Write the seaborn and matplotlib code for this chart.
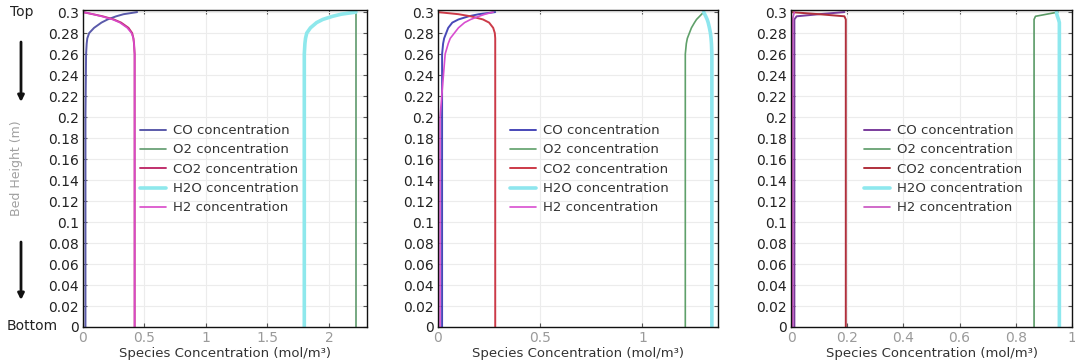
import numpy as np
import pandas as pd
import matplotlib
matplotlib.use("Agg")
import matplotlib.pyplot as plt
import seaborn as sns

# Bed height sample points (m), denser near the top where profiles bend
heights = [0.0, 0.20, 0.26, 0.27, 0.275, 0.28, 0.285, 0.29, 0.293, 0.296, 0.298, 0.30]

species = ["CO", "O2", "CO2", "H2O", "H2"]

# Case 1 concentrations (mol/m^3) at each height
case1_co = [0.02, 0.02, 0.025, 0.03, 0.035, 0.05, 0.09, 0.15, 0.20, 0.27, 0.33, 0.44]
case1_o2 = [2.22, 2.22, 2.22, 2.22, 2.22, 2.22, 2.22, 2.22, 2.22, 2.22, 2.22, 2.22]
case1_co2 = [0.42, 0.42, 0.42, 0.415, 0.41, 0.40, 0.37, 0.31, 0.25, 0.16, 0.08, 0.0]
case1_h2o = [1.80, 1.80, 1.80, 1.805, 1.81, 1.82, 1.85, 1.90, 1.95, 2.03, 2.10, 2.22]
case1_h2 = [0.42, 0.42, 0.42, 0.415, 0.41, 0.395, 0.36, 0.30, 0.24, 0.15, 0.08, 0.0]

# Case 2
case2_co = [0.02, 0.02, 0.02, 0.025, 0.03, 0.04, 0.05, 0.07, 0.10, 0.15, 0.20, 0.28]
case2_o2 = [1.21, 1.21, 1.21, 1.215, 1.22, 1.23, 1.24, 1.255, 1.265, 1.28, 1.29, 1.30]
case2_co2 = [0.28, 0.28, 0.28, 0.28, 0.28, 0.278, 0.27, 0.25, 0.22, 0.16, 0.10, 0.0]
case2_h2o = [1.34, 1.34, 1.34, 1.338, 1.336, 1.333, 1.328, 1.322, 1.317, 1.31, 1.305, 1.30]
case2_h2 = [0.01, 0.01, 0.035, 0.05, 0.06, 0.08, 0.10, 0.13, 0.16, 0.20, 0.23, 0.27]

# Case 3
case3_co = [0.012, 0.012, 0.012, 0.012, 0.012, 0.012, 0.012, 0.012, 0.012, 0.02, 0.10, 0.19]
case3_o2 = [0.865, 0.865, 0.865, 0.865, 0.865, 0.865, 0.865, 0.865, 0.865, 0.87, 0.91, 0.95]
case3_co2 = [0.195, 0.195, 0.195, 0.195, 0.195, 0.195, 0.195, 0.195, 0.195, 0.19, 0.10, 0.0]
case3_h2o = [0.955, 0.955, 0.955, 0.955, 0.955, 0.955, 0.955, 0.955, 0.952, 0.948, 0.946, 0.945]
case3_h2 = [0.006, 0.006, 0.006, 0.006, 0.006, 0.006, 0.006, 0.006, 0.006, 0.008, 0.01, 0.012]

cases = [
    [case1_co, case1_o2, case1_co2, case1_h2o, case1_h2],
    [case2_co, case2_o2, case2_co2, case2_h2o, case2_h2],
    [case3_co, case3_o2, case3_co2, case3_h2o, case3_h2],
]

x_limits = [(0, 2.31), (0, 1.37), (0, 0.985)]
x_ticks = [[0, 0.5, 1, 1.5, 2], [0, 0.5, 1], [0, 0.2, 0.4, 0.6, 0.8, 1]]
x_ticklabels = [["0", "0.5", "1", "1.5", "2"], ["0", "0.5", "1"],
                ["0", "0.2", "0.4", "0.6", "0.8", "1"]]
y_ticks = [0, 0.02, 0.04, 0.06, 0.08, 0.1, 0.12, 0.14, 0.16, 0.18,
           0.2, 0.22, 0.24, 0.26, 0.28, 0.3]
y_ticklabels = ["0", "0.02", "0.04", "0.06", "0.08", "0.1", "0.12", "0.14", "0.16",
                "0.18", "0.2", "0.22", "0.24", "0.26", "0.28", "0.3"]

colors = {
    "CO": ["#5a5aaa", "#4848b8", "#7a3c9c"],
    "O2": ["#5f9a6c", "#5fa06a", "#5a9a66"],
    "CO2": ["#c0306c", "#cc3a48", "#b0303c"],
    "H2O": ["#8ee8ec", "#8ee6ee", "#8ee8ee"],
    "H2": ["#d848c8", "#d84ed0", "#c850c0"],
}
widths = {"CO": 1.4, "O2": 1.2, "CO2": 1.4, "H2O": 2.6, "H2": 1.2}

sns.set_theme(style="white")
plt.rcParams["font.family"] = ["DejaVu Sans"]

fig = plt.figure(figsize=(10.75, 3.64), dpi=100)
axes_boxes = [
    (83 / 1075, 37 / 364, 284 / 1075, 317 / 364),
    (438 / 1075, 37 / 364, 280 / 1075, 317 / 364),
    (791 / 1075, 37 / 364, 281 / 1075, 317 / 364),
]
legend_x = [0.2, 0.257, 0.26]

for i, box in enumerate(axes_boxes):
    ax = fig.add_axes(box)
    for name, values in zip(species, cases[i]):
        df = pd.DataFrame({"conc": values, "height": heights})
        sns.lineplot(data=df, x="conc", y="height", sort=False, estimator=None,
                     orient="y", ax=ax, color=colors[name][i], lw=widths[name],
                     label=f"{name} concentration")
    ax.set_xlim(*x_limits[i])
    ax.set_ylim(0, 0.302)
    ax.set_xticks(x_ticks[i])
    ax.set_xticklabels(x_ticklabels[i], color="#9a9a9a", fontsize=10)
    ax.set_yticks(y_ticks)
    ax.set_yticklabels(y_ticklabels, fontsize=10, color="#222222")
    ax.grid(True, color="#ececec", lw=0.8)
    ax.tick_params(direction="in", length=3, width=0.8, top=True, right=True,
                   bottom=True, left=True, colors="#555555", pad=3)
    for lab in ax.get_yticklabels():
        lab.set_color("#222222")
    for lab in ax.get_xticklabels():
        lab.set_color("#9a9a9a")
    for sp in ax.spines.values():
        sp.set_color("#111111")
        sp.set_linewidth(1.0)
    ax.set_xlabel("Species Concentration (mol/m³)", fontsize=9.5, color="#333333",
                  labelpad=1)
    ax.set_ylabel("")
    ax.legend(loc="upper left", bbox_to_anchor=(legend_x[i], 0.64), frameon=False,
              fontsize=9.5, handlelength=2.0, handletextpad=0.5, labelspacing=0.48,
              borderaxespad=0, borderpad=0, labelcolor="#333333")

# Bed orientation markers on the left
fig.text(22 / 1075, 1 - 12 / 364, "Top", ha="center", va="center", fontsize=10,
         color="#222222")
fig.text(32 / 1075, 1 - 326 / 364, "Bottom", ha="center", va="center", fontsize=10,
         color="#222222")
fig.text(17 / 1075, 1 - 168 / 364, "Bed Height (m)", ha="center", va="center",
         rotation=90, fontsize=9, color="#a0a0a0")
arrow_style = dict(arrowstyle="-|>", color="#111111", lw=2.0, mutation_scale=9,
                   shrinkA=0, shrinkB=0)
fig.add_artist(matplotlib.patches.FancyArrowPatch(
    (21 / 1075, 1 - 42 / 364), (21 / 1075, 1 - 102 / 364),
    transform=fig.transFigure, **arrow_style))
fig.add_artist(matplotlib.patches.FancyArrowPatch(
    (21 / 1075, 1 - 242 / 364), (21 / 1075, 1 - 300 / 364),
    transform=fig.transFigure, **arrow_style))

fig.savefig("out.png", dpi=100)
